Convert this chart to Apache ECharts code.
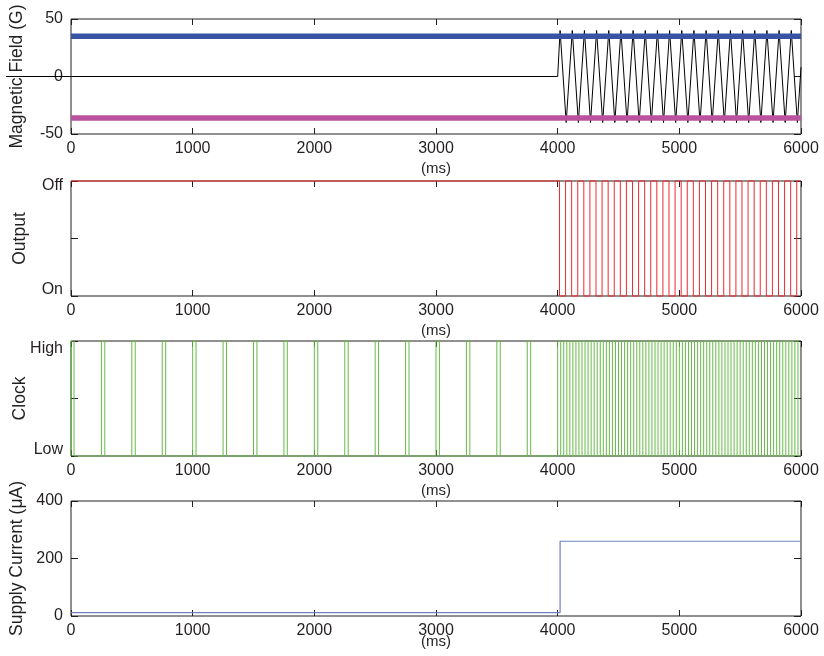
<!DOCTYPE html>
<html>
<head>
<meta charset="utf-8">
<script src="https://cdn.jsdelivr.net/npm/echarts@6/dist/echarts.min.js"></script>
<style>
html,body{margin:0;padding:0;background:#fff;}
#chart{width:824px;height:656px;}
</style>
</head>
<body>
<div id="chart"></div>
<script>
// ---- data ----
var xTicks = [0, 1000, 2000, 3000, 4000, 5000, 6000];

// Magnetic field (G)
var fieldLeadTimes = [-535, 0];          // zero line drawn before t = 0
var fieldLeadValues = [0, 0];
var fieldTimes = [0, 4000, 4020, 4070, 4120, 4170, 4220, 4270, 4320, 4370, 4420, 4470, 4520, 4570, 4620, 4670, 4720, 4770, 4820, 4870, 4920, 4970, 5020, 5070, 5120, 5170, 5220, 5270, 5320, 5370, 5420, 5470, 5520, 5570, 5620, 5670, 5720, 5770, 5820, 5870, 5920, 5970, 6000];
var fieldValues = [0, 0, 40, -40, 40, -40, 40, -40, 40, -40, 40, -40, 40, -40, 40, -40, 40, -40, 40, -40, 40, -40, 40, -40, 40, -40, 40, -40, 40, -40, 40, -40, 40, -40, 40, -40, 40, -40, 40, -40, 40, -40, 8];
var operatePoint = 35;   // blue
var releasePoint = -36;  // magenta

// Output: 1 = Off, 0 = On
var outputStart = 1;
var outputToggleTimes = [4015, 4065, 4115, 4165, 4215, 4265, 4315, 4365, 4415, 4465, 4515, 4565, 4615, 4665, 4715, 4765, 4815, 4865, 4915, 4965, 5015, 5065, 5115, 5165, 5215, 5265, 5315, 5365, 5415, 5465, 5515, 5565, 5615, 5665, 5715, 5765, 5815, 5865, 5915, 5965];

// Clock: 1 = High, 0 = Low
var clockRise = [0, 250, 500, 750, 1000, 1250, 1500, 1750, 2000, 2250, 2500, 2750, 3000, 3250, 3500, 3750, 4000, 4050, 4100, 4150, 4200, 4250, 4300, 4350, 4400, 4450, 4500, 4550, 4600, 4650, 4700, 4750, 4800, 4850, 4900, 4950, 5000, 5050, 5100, 5150, 5200, 5250, 5300, 5350, 5400, 5450, 5500, 5550, 5600, 5650, 5700, 5750, 5800, 5850, 5900, 5950];
var clockFall = [25, 278, 528, 778, 1028, 1278, 1528, 1778, 2028, 2278, 2528, 2778, 3028, 3278, 3528, 3778, 4025, 4075, 4125, 4175, 4225, 4275, 4325, 4375, 4425, 4475, 4525, 4575, 4625, 4675, 4725, 4775, 4825, 4875, 4925, 4975, 5025, 5075, 5125, 5175, 5225, 5275, 5325, 5375, 5425, 5475, 5525, 5575, 5625, 5675, 5725, 5775, 5825, 5875, 5925, 5975];

// Supply current (uA)
var currentTimes = [0, 4020, 4020, 6000];
var currentValues = [12, 12, 260, 260];

// ---- build point tables ----
function zip(xs, ys){ var o=[]; for(var i=0;i<xs.length;i++) o.push([xs[i], ys[i]]); return o; }
function toggles(start, times){
  var o=[[0,start]], v=start;
  for(var i=0;i<times.length;i++){ o.push([times[i], v]); v = 1 - v; o.push([times[i], v]); }
  o.push([6000, v]); return o;
}
function pulses(rise, fall){
  var o=[[0,0]];
  for(var i=0;i<rise.length;i++){
    o.push([rise[i],0],[rise[i],1],[fall[i],1],[fall[i],0]);
  }
  o.push([6000,0]); return o;
}

var FONT = 'Liberation Sans';
var TXT = '#231F20';
var PLOT_LEFT = 71, PLOT_RIGHT = 23, PLOT_W = 824 - 71 - 23;
var tops = [19, 181, 341, 501];
var msGaps = [27, 27, 27, 18];
var grids = tops.map(function(t){
  return {left:PLOT_LEFT, right:PLOT_RIGHT, top:t, height:115, show:true, borderColor:'#231F20', borderWidth:1,
    backgroundColor:'transparent', outerBoundsMode:'none', containLabel:false};
});
// helper grid (same scale) that reaches left of t = 0 for the field's lead-in line
grids.push({left: PLOT_LEFT - PLOT_W * (-fieldLeadTimes[0]) / xTicks[xTicks.length-1], right:PLOT_RIGHT, top:19, height:115,
  show:false, outerBoundsMode:'none', containLabel:false});

var edgeRich = {
  t:{fontFamily:'Liberation Sans', fontSize:16, color:'#231F20', padding:[10,0,0,0]},
  h:{fontFamily:'Liberation Sans', fontSize:16, color:'#231F20', padding:[15,0,0,0]},
  b:{fontFamily:'Liberation Sans', fontSize:16, color:'#231F20', padding:[0,0,12,0]}
};

var xAxes = [], yAxes = [];
var yCfg = [
  {min:-50, max:50, interval:50, name:'Magnetic Field (G)', gap:45, fmt:function(v){return String(v);} },
  {min:0, max:1, interval:0.5, name:'Output', gap:42, fmt:function(v){return v===1?'{t|Off}':(v===0?'{b|On}':'');} },
  {min:0, max:1, interval:0.5, name:'Clock', gap:42, fmt:function(v){return v===1?'{h|High}':(v===0?'{b|Low}':'');} },
  {min:0, max:400, interval:200, name:'Supply Current (\u03bcA)', gap:45, fmt:function(v){return String(v);} }
];
for (var g=0; g<4; g++){
  xAxes.push({
    type:'value', gridIndex:g, min:xTicks[0], max:xTicks[xTicks.length-1], interval:xTicks[1]-xTicks[0],
    position:'bottom', name:'(ms)', nameLocation:'middle', nameGap:msGaps[g], nameMoveOverlap:false,
    nameTextStyle:{fontFamily:FONT, fontSize:15, color:TXT},
    axisLine:{show:false, onZero:false}, splitLine:{show:false},
    axisTick:{show:true, inside:true, length:6, lineStyle:{color:TXT}},
    axisLabel:{fontFamily:FONT, fontSize:16, color:TXT, margin:7, formatter:function(v){return String(v);}}
  });
  xAxes.push({
    type:'value', gridIndex:g, min:xTicks[0], max:xTicks[xTicks.length-1], interval:xTicks[1]-xTicks[0],
    position:'top', axisLine:{show:false, onZero:false}, splitLine:{show:false},
    axisTick:{show:true, inside:true, length:6, lineStyle:{color:TXT}},
    axisLabel:{show:false}
  });
  var c = yCfg[g];
  yAxes.push({
    type:'value', gridIndex:g, min:c.min, max:c.max, interval:c.interval, position:'left',
    name:c.name, nameLocation:'middle', nameGap:c.gap, nameRotate:90, nameMoveOverlap:false,
    nameTextStyle:{fontFamily:FONT, fontSize:17.5, color:TXT},
    axisLine:{show:false, onZero:false}, splitLine:{show:false},
    axisTick:{show:true, inside:true, length:7, lineStyle:{color:TXT}},
    axisLabel:{fontFamily:FONT, fontSize:16, color:TXT, margin:8, formatter:c.fmt, rich:edgeRich}
  });
  yAxes.push({
    type:'value', gridIndex:g, min:c.min, max:c.max, interval:c.interval, position:'right',
    axisLine:{show:false, onZero:false}, splitLine:{show:false},
    axisTick:{show:true, inside:true, length:7, lineStyle:{color:TXT}},
    axisLabel:{show:false}
  });
}
// hidden axes of the lead-in grid (index 8 / 8)
xAxes.push({type:'value', gridIndex:4, min:fieldLeadTimes[0], max:xTicks[xTicks.length-1], show:false, axisLine:{onZero:false}});
yAxes.push({type:'value', gridIndex:4, min:-50, max:50, show:false, axisLine:{onZero:false}});

function lineSeries(xi, yi, data, color, width, z){
  return {type:'line', xAxisIndex:xi, yAxisIndex:yi, data:data, showSymbol:false, symbol:'none',
    clip:false, animation:false, silent:true, z:z||2,
    lineStyle:{color:color, width:width}};
}

var series = [
  lineSeries(8, 8, zip(fieldLeadTimes, fieldLeadValues), '#000000', 1, 2),
  lineSeries(0, 0, zip(fieldTimes, fieldValues), '#000000', 1, 2),
  lineSeries(0, 0, [[0, operatePoint],[6000, operatePoint]], '#3953A4', 5.5, 3),
  lineSeries(0, 0, [[0, releasePoint],[6000, releasePoint]], '#B9529F', 5.5, 3),
  lineSeries(2, 2, toggles(outputStart, outputToggleTimes), '#EE2A2F', 1, 2),
  lineSeries(4, 4, pulses(clockRise, clockFall), '#66BB46', 1, 2),
  lineSeries(6, 6, zip(currentTimes, currentValues), '#6F80C0', 1.2, 2)
];

var chart = echarts.init(document.getElementById('chart'), null, {renderer:'canvas'});
chart.setOption({
  backgroundColor:'#ffffff',
  animation:false,
  grid:grids,
  xAxis:xAxes,
  yAxis:yAxes,
  series:series
});
</script>
</body>
</html>
